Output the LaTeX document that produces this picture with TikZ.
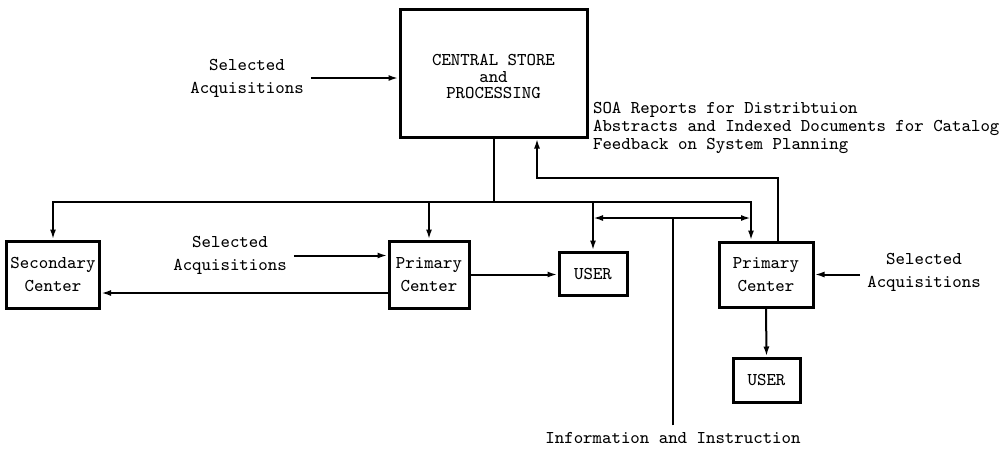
\documentclass[tikz,border=0pt]{standalone}
\usetikzlibrary{arrows.meta}
\begin{document}
\begin{tikzpicture}[x=0.5pt,y=-0.5pt,
  box/.style={draw, line width=1.5pt, align=center, inner sep=2pt},
  lbl/.style={align=center},
  flow/.style={line width=1pt},
  >={Latex[length=5pt,width=3pt]},
  font=\ttfamily\fontsize{9}{11.5}\selectfont]
  \useasboundingbox (0,0) rectangle (1005,451);

  % boxes
  \node[box, minimum width=93.5pt, minimum height=64pt,
    label={[align=center, yshift=-1.8pt]center:CENTRAL STORE\\[-3.2pt]and\\[-3.2pt]PROCESSING}] (central) at (493.5,73) {};
  \node[box, minimum width=46pt, minimum height=33.5pt] (sec) at (53,274.5) {Secondary\\Center};
  \node[box, minimum width=40pt, minimum height=33.5pt] (prima) at (429,274.5) {Primary\\Center};
  \node[box, minimum width=34pt, minimum height=21.5pt] (usera) at (593,273.5) {USER};
  \node[box, minimum width=47pt, minimum height=32.5pt] (primb) at (766,274.5) {Primary\\Center};
  \node[box, minimum width=33.5pt, minimum height=22pt] (userb) at (766.5,380) {USER};

  % labels
  \node[lbl] (acqa) at (247,78) {Selected\\Acquisitions};
  \node[lbl] (acqb) at (230,255.5) {Selected\\Acquisitions};
  \node[lbl] (acqc) at (924,272) {Selected\\Acquisitions};
  \node[anchor=west] (rep) at (586,110) {SOA Reports for Distribtuion};
  \node[anchor=west] (abs) at (586,128) {Abstracts and Indexed Documents for Catalog};
  \node[anchor=west] (feed) at (586,146) {Feedback on System Planning};
  \node[lbl] (info) at (673,438) {Information and Instruction};

  \coordinate (bus) at (493.5,202);
  \coordinate (tapR) at (751,202);
  \coordinate (infoTop) at (673,218);
  \coordinate (fb) at (537,178);

  % connectors
  \draw[flow,->] (acqa.east) -- (acqa.east -| central.west);
  \draw[flow] (central.south) -- (bus);
  \draw[flow,->] (bus) -| (sec.north);
  \draw[flow,->] (bus) -- (tapR) -- (tapR |- primb.north);
  \draw[flow,->] (prima.north |- bus) -- (prima.north);
  \draw[flow,->] (usera.north |- bus) -- (usera.north);
  \draw[flow,->] ([xshift=30pt]primb.north west) |- (fb) -- (fb |- central.south);
  \draw[flow] (info.north) -- (infoTop);
  \draw[flow,->] (infoTop) -- (infoTop -| tapR);
  \draw[flow,->] (infoTop) -- (infoTop -| usera.north);
  \draw[flow,->] (acqb.east) -- (acqb.east -| prima.west);
  \draw[flow,->] ([yshift=-9.25pt]prima.west) -- ([yshift=-9.25pt]prima.west -| sec.east);
  \draw[flow,->] (prima.east) -- (prima.east -| usera.west);
  \draw[flow,->] (acqc.west |- primb.east) -- (primb.east);
  \draw[flow,->] (primb.south) -- (userb.north);
\end{tikzpicture}
\end{document}
